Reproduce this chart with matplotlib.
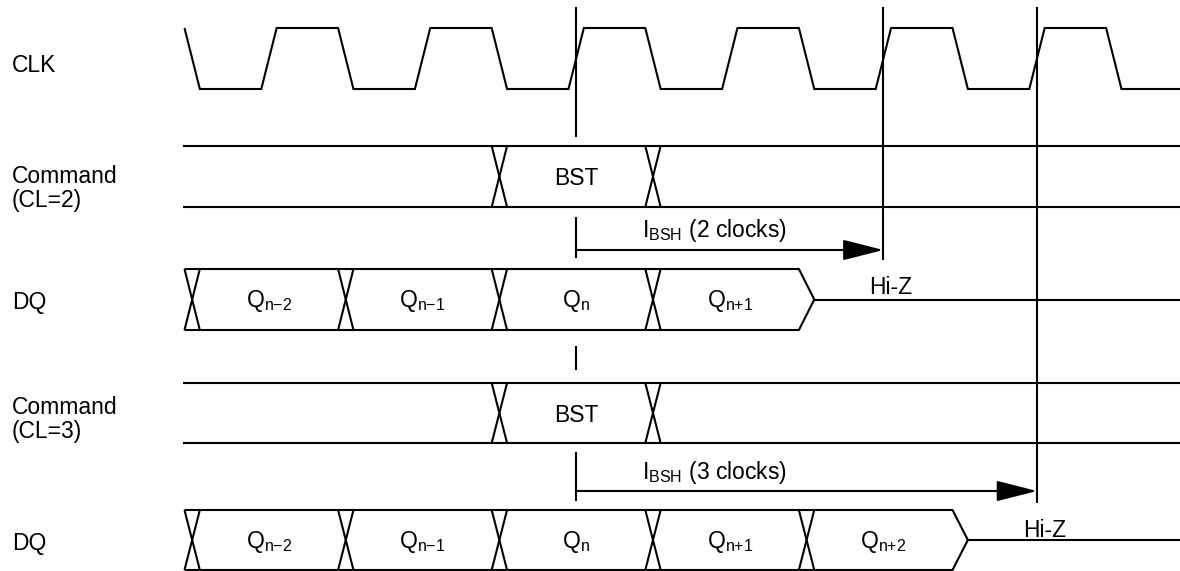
import matplotlib
matplotlib.use('Agg')
import matplotlib.pyplot as plt

plt.rcParams['font.family'] = 'Liberation Sans'

# timing data, in clock cycles (0 = first rising edge shown)
clk_rise = [0, 1, 2, 3, 4, 5]
clk_fall = [-0.5, 0.5, 1.5, 2.5, 3.5, 4.5, 5.5]

cmd_edges = [1.5, 2.5]
cmd_label = 'BST'

dq2_edges = [-0.5, 0.5, 1.5, 2.5]
dq2_end = 3.5
dq2_labels = ['n{-}2', 'n{-}1', 'n', 'n{+}1']

dq3_edges = [-0.5, 0.5, 1.5, 2.5, 3.5]
dq3_end = 4.5
dq3_labels = ['n{-}2', 'n{-}1', 'n', 'n{+}1', 'n{+}2']

bst_cycle = 2
bsh_clocks = [2, 3]

row_names = ['CLK', 'Command\n(CL=2)', 'DQ', 'Command\n(CL=3)', 'DQ']

# layout (y is in pixels from the top)
name_top = [54, 165, 291, 396.5, 532]
W = 0.1                 # width of a transition, in cycles
x_right = 5.931
FS = 16.5
kw = dict(color='black', lw=1.5, solid_joinstyle='miter', solid_capstyle='butt')

fig = plt.figure(figsize=(11.8, 5.71), dpi=100)
ax = fig.add_axes([0, 0, 1, 1])
ax.set_xlim(-1.751, x_right)
ax.set_ylim(571, 0)
ax.axis('off')

# clock
hi, lo = 28, 89
edges = sorted([(e, 'r') for e in clk_rise] + [(e, 'f') for e in clk_fall])
xs, ys = [], []
for e, kind in edges:
    xs += [e - W / 2, e + W / 2]
    ys += [hi, lo] if kind == 'f' else [lo, hi]
xs.append(x_right)
ys.append(lo)
ax.plot(xs, ys, **kw)


def cross(e, top, bot):
    ax.plot([e - W / 2, e + W / 2], [top, bot], **kw)
    ax.plot([e - W / 2, e + W / 2], [bot, top], **kw)


def command(top, bot, base):
    ax.plot([-0.56, x_right], [top, top], **kw)
    ax.plot([-0.56, x_right], [bot, bot], **kw)
    for e in cmd_edges:
        cross(e, top, bot)
    ax.text((cmd_edges[0] + cmd_edges[1]) / 2, base, cmd_label, ha='center',
            va='baseline', fontsize=FS)


def bus(edges, end, labels, top, bot, base, hiz_base):
    mid = (top + bot) / 2
    for e in edges:
        cross(e, top, bot)
    ax.plot([edges[0] - W / 2, end - W / 2, end + W / 2], [top, top, mid], **kw)
    ax.plot([edges[0] - W / 2, end - W / 2, end + W / 2], [bot, bot, mid], **kw)
    ax.plot([end + W / 2, x_right], [mid, mid], **kw)
    bounds = edges + [end]
    for i, lab in enumerate(labels):
        ax.text((bounds[i] + bounds[i + 1]) / 2, base,
                r'$\mathregular{Q_{' + lab + '}}$', ha='center', va='baseline',
                fontsize=FS)
    ax.text(end + 0.55, hiz_base, 'Hi-Z', ha='center', va='baseline', fontsize=FS)


command(146, 207, 185)
bus(dq2_edges, dq2_end, dq2_labels, 269, 330, 307, 294)
command(383, 443, 422)
bus(dq3_edges, dq3_end, dq3_labels, 510, 570, 548, 537)

# reference lines
ax.vlines([bst_cycle] * 4, [7, 217, 346, 452], [137, 258, 370, 501], color='black', lw=1.5)
ax.vlines(bst_cycle + bsh_clocks[0], 7, 260, color='black', lw=1.5)
ax.vlines(bst_cycle + bsh_clocks[1], 7, 503, color='black', lw=1.5)

# burst stop arrows
for n, y, base in zip(bsh_clocks, [250, 491], [237, 479]):
    ax.annotate('', xy=(bst_cycle + n, y), xytext=(bst_cycle, y),
                arrowprops=dict(arrowstyle='-|>,head_length=1.26,head_width=0.32',
                                color='black', lw=1.5, shrinkA=0, shrinkB=0,
                                mutation_scale=20))
    ax.text(bst_cycle + 0.43, base, r'$\mathregular{I_{BSH}}$ (%d clocks)' % n,
            ha='left', va='baseline', fontsize=FS)

# row names
for name, top in zip(row_names, name_top):
    ax.text(12 / 1180, top, name, transform=ax.get_yaxis_transform(),
            ha='left', va='top', fontsize=FS, linespacing=1.05)

fig.savefig('out.png', dpi=100)
